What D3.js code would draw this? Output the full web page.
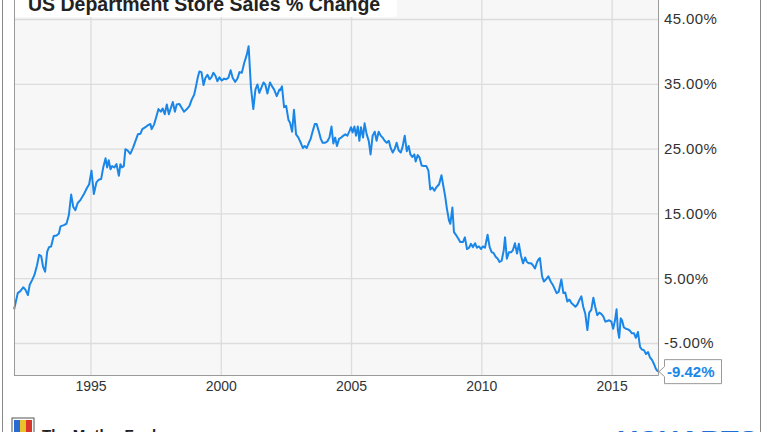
<!DOCTYPE html>
<html><head><meta charset="utf-8">
<script src="https://cdn.jsdelivr.net/npm/d3@7"></script>
<style>
html,body{margin:0;padding:0;background:#fff;overflow:hidden;}
svg{display:block;font-family:"Liberation Sans",Arial,sans-serif;}
</style></head><body>
<svg id="c" width="764" height="432"></svg>
<script>
const chartTitle = "US Department Store Sales % Change";
const xTicks = [1995, 2000, 2005, 2010, 2015];
const yTicks = [45, 35, 25, 15, 5, -5];
const lastLabel = "-9.42%";

const dates = [
1992.07,1992.21,1992.31,1992.42,1992.51,1992.60,1992.67,1992.76,1992.85,1992.95,
1993.03,1993.11,1993.18,1993.26,1993.34,1993.41,1993.49,1993.59,1993.70,1993.79,
1993.85,1993.98,1994.08,1994.17,1994.26,1994.34,1994.42,1994.51,1994.62,1994.74,
1994.85,1994.95,1995.04,1995.13,1995.23,1995.32,1995.41,1995.49,1995.58,1995.64,
1995.70,1995.77,1995.83,1995.92,1996.00,1996.09,1996.15,1996.21,1996.28,1996.34,
1996.43,1996.53,1996.64,1996.73,1996.82,1996.92,1996.99,1997.11,1997.20,1997.30,
1997.35,1997.44,1997.52,1997.61,1997.70,1997.77,1997.85,1997.93,1998.01,1998.08,
1998.16,1998.24,1998.31,1998.41,1998.50,1998.59,1998.70,1998.80,1998.89,1998.98,
1999.05,1999.12,1999.18,1999.26,1999.34,1999.41,1999.49,1999.57,1999.64,1999.72,
1999.80,1999.87,1999.95,2000.04,2000.13,2000.20,2000.29,2000.38,2000.46,2000.55,
2000.64,2000.72,2000.81,2000.90,2001.00,2001.07,2001.16,2001.25,2001.33,2001.41,
2001.48,2001.56,2001.64,2001.71,2001.79,2001.89,2001.97,2002.05,2002.15,2002.25,
2002.28,2002.35,2002.43,2002.51,2002.60,2002.66,2002.74,2002.81,2002.89,2002.98,
2003.07,2003.15,2003.22,2003.30,2003.38,2003.45,2003.53,2003.61,2003.68,2003.76,
2003.84,2003.91,2004.00,2004.09,2004.17,2004.25,2004.32,2004.39,2004.46,2004.54,
2004.62,2004.71,2004.78,2004.86,2004.94,2005.00,2005.06,2005.13,2005.19,2005.26,
2005.32,2005.38,2005.46,2005.52,2005.60,2005.68,2005.75,2005.83,2005.91,2005.98,
2006.06,2006.14,2006.21,2006.29,2006.37,2006.45,2006.52,2006.60,2006.68,2006.75,
2006.83,2006.91,2006.98,2007.06,2007.14,2007.21,
2007.28,2007.35,2007.43,2007.48,2007.56,2007.63,2007.71,2007.79,2007.89,2007.97,
2008.04,2008.12,2008.20,2008.27,2008.38,2008.47,2008.53,2008.61,2008.68,2008.76,
2008.81,2008.89,2008.95,2009.04,2009.12,2009.19,2009.30,2009.37,2009.45,2009.53,
2009.60,2009.68,2009.76,2009.83,2009.91,2009.99,2010.06,2010.14,2010.24,2010.32,
2010.40,2010.47,2010.55,2010.63,2010.70,2010.78,2010.86,2010.91,2010.98,2011.06,
2011.14,2011.21,2011.29,2011.37,2011.44,2011.52,2011.60,2011.68,2011.75,2011.83,
2011.91,2011.98,2012.06,2012.14,2012.21,
2012.25,2012.33,2012.40,2012.48,2012.57,2012.66,2012.74,2012.81,2012.89,2012.97,
2013.07,2013.15,2013.22,2013.30,2013.38,2013.45,2013.53,2013.61,2013.68,2013.76,
2013.84,2013.91,2013.99,2014.07,2014.14,2014.22,2014.30,2014.37,2014.45,2014.53,
2014.60,2014.68,2014.76,2014.83,2014.91,2014.99,2015.06,2015.13,2015.19,2015.24,
2015.29,2015.35,2015.40,2015.47,2015.55,2015.63,2015.70,2015.78,2015.86,2015.93,
2016.01,2016.09,2016.16,2016.24,2016.32,2016.40,2016.47,2016.55,2016.62,2016.70,
2016.78
];

const pctChange = [
0.2,2.7,3.0,3.6,3.2,2.4,4.0,4.7,5.5,7.0,
8.6,8.4,6.8,6.0,9.1,9.8,9.9,11.5,11.6,11.9,
13.0,13.2,13.4,14.7,17.9,16.0,15.5,16.6,17.1,17.9,
18.8,19.5,21.6,18.0,19.8,20.2,20.3,22.1,23.5,22.1,
23.2,21.8,22.3,22.1,22.6,20.8,22.6,22.1,22.3,24.9,
24.7,24.2,25.2,26.2,27.2,27.3,28.0,28.3,28.6,28.8,
28.0,28.7,29.8,31.1,30.7,31.2,30.3,31.8,30.3,31.2,
32.2,30.7,31.8,31.9,31.3,30.7,31.1,31.6,32.6,33.3,
34.6,36.0,36.9,36.8,34.8,35.9,36.4,35.7,36.0,36.7,
36.2,35.4,36.0,35.5,35.8,35.7,35.9,37.1,35.9,35.3,
35.8,36.8,36.7,38.2,39.5,40.8,34.4,31.1,34.1,34.9,
33.6,34.4,35.2,34.9,33.5,35.2,34.6,34.1,33.1,34.1,
34.0,34.6,31.4,31.6,29.4,29.0,27.6,31.0,27.2,26.7,
25.9,25.1,25.4,25.1,25.9,26.5,27.7,28.8,28.8,27.7,
26.5,25.9,25.9,26.1,26.7,28.4,25.8,26.7,25.4,26.5,
26.7,27.0,27.2,27.0,27.7,28.3,27.5,28.4,27.0,28.4,
26.2,28.3,26.7,28.9,27.2,26.2,24.1,27.0,27.6,26.2,
27.6,27.0,26.7,26.2,25.9,26.2,25.1,24.4,25.0,25.9,
24.7,24.4,25.3,27.0,24.6,25.4,
24.1,23.7,24.1,23.0,24.0,23.6,22.4,22.3,22.3,21.6,
18.7,19.0,18.5,19.0,19.5,20.9,19.5,17.7,15.7,13.9,
13.4,15.9,12.1,11.6,11.1,10.6,10.6,11.3,9.5,9.7,
10.3,9.8,10.4,9.7,9.9,9.5,9.9,9.7,11.7,9.8,
9.0,8.9,8.3,8.0,7.5,7.7,9.3,11.3,8.0,9.0,
9.0,9.3,10.4,8.8,10.3,8.5,7.3,8.2,7.5,7.3,
7.3,7.0,6.5,7.5,8.0,
8.1,5.3,4.5,4.8,5.3,4.5,4.0,3.4,2.7,2.9,
4.8,2.7,2.8,1.4,1.7,1.2,0.9,0.6,0.9,1.6,
2.2,0.6,-0.5,-3.0,-0.3,0.1,2.0,0.6,-0.7,-0.3,
-0.5,-0.9,-1.7,-1.6,-1.5,-1.7,-2.8,-1.5,0.2,-3.0,
-4.2,-1.2,-1.5,-2.6,-2.8,-2.9,-3.1,-3.5,-3.5,-4.2,
-3.3,-5.6,-6.0,-6.1,-6.7,-6.4,-7.2,-7.6,-8.2,-9.0,
-9.42
];

const svg = d3.select("#c");
const L = 14, R = 658, B = 375;
const x = d3.scaleLinear().domain([1992.066, 2016.78]).range([L, R]);
const y = d3.scaleLinear().domain([-10, 45]).range([375.4, 19]);
const data = dates.map((d, i) => ({ t: d, v: pctChange[i] }));
const blue = "#1a87e8";

svg.append("rect").attr("width", 764).attr("height", 432).attr("fill", "#fff");
// outer frame
svg.append("line").attr("x1", 2.5).attr("x2", 2.5).attr("y1", 0).attr("y2", 432).attr("stroke", "#888");
svg.append("line").attr("x1", 760.5).attr("x2", 760.5).attr("y1", 0).attr("y2", 432).attr("stroke", "#888");

// plot background
svg.append("rect").attr("x", L).attr("y", -5).attr("width", R - L).attr("height", B + 5).attr("fill", "#f7f7f7");

// gridlines via axes
const gx = svg.append("g").attr("transform", `translate(0,${B})`)
  .call(d3.axisBottom(x).tickValues(xTicks).tickSize(-(B + 5)).tickFormat(""));
gx.select(".domain").remove();
gx.selectAll("line").attr("stroke", "#dcdcdc").attr("stroke-width", 1.3);

const gy = svg.append("g").attr("transform", `translate(${L},0)`)
  .call(d3.axisRight(y).tickValues(yTicks).tickSize(R - L).tickFormat(""));
gy.select(".domain").remove();
gy.selectAll("line").attr("stroke", "#dcdcdc").attr("stroke-width", 1.3);

// title box
svg.append("rect").attr("x", L).attr("y", -10).attr("width", 383).attr("height", 27).attr("rx", 4).attr("fill", "#fff");
svg.append("text").attr("x", 28).attr("y", 11).attr("font-size", 19.5).attr("font-weight", "bold")
  .attr("fill", "#222").text(chartTitle);

// line
svg.append("path").datum(data)
  .attr("d", d3.line().x(d => x(d.t)).y(d => y(d.v)))
  .attr("fill", "none").attr("stroke", blue).attr("stroke-width", 2).attr("stroke-linejoin", "round");

// plot border
const border = svg.append("g").attr("stroke", "#9a9a9a").attr("fill", "none");
border.append("line").attr("x1", L + 0.5).attr("x2", L + 0.5).attr("y1", -5).attr("y2", B + 0.5);
border.append("line").attr("x1", R + 0.5).attr("x2", R + 0.5).attr("y1", -5).attr("y2", B + 0.5);
border.append("line").attr("x1", L).attr("x2", R + 0.5).attr("y1", B + 0.5).attr("y2", B + 0.5);

// y labels
const yl = svg.append("g").attr("transform", `translate(${R},0)`)
  .call(d3.axisRight(y).tickValues(yTicks).tickSize(0).tickPadding(6).tickFormat(d => d.toFixed(2) + "%"));
yl.select(".domain").remove();
yl.selectAll("text").attr("font-size", 15).attr("fill", "#333").attr("font-family", "Liberation Sans, Arial, sans-serif")
  .attr("letter-spacing", 0.4);

// x labels
const xl = svg.append("g").attr("transform", `translate(0,${B})`)
  .call(d3.axisBottom(x).tickValues(xTicks).tickSize(0).tickPadding(6).tickFormat(d3.format("d")));
xl.select(".domain").remove();
xl.selectAll("text").attr("font-size", 14).attr("fill", "#333").attr("font-family", "Liberation Sans, Arial, sans-serif");

// last value callout
const last = data[data.length - 1];
const ly = y(last.v);
const bx = 664, bw = 57, bh = 24, by = ly - 12.5;
svg.append("path")
  .attr("d", `M${bx + 0.5},${by + 0.5} H${bx + bw + 0.5} V${by + bh + 0.5} H${bx + 0.5} V${ly + 5} L${x(last.t) + 1},${ly} L${bx + 0.5},${ly - 5} Z`)
  .attr("fill", "#fff").attr("stroke", "#999");
svg.append("text").attr("x", bx + 3).attr("y", ly + 5.5).attr("font-size", 15).attr("font-weight", "bold")
  .attr("fill", blue).text(lastLabel);

// footer branding (cut off at bottom)
const logo = svg.append("g").attr("transform", "translate(12,418)");
logo.append("rect").attr("width", 22).attr("height", 16).attr("fill", "#fff").attr("stroke", "#555");
logo.append("rect").attr("x", 2).attr("y", 2).attr("width", 6).attr("height", 14).attr("fill", "#2a6bd1");
logo.append("rect").attr("x", 8).attr("y", 2).attr("width", 6).attr("height", 14).attr("fill", "#e8c12b");
logo.append("rect").attr("x", 14).attr("y", 2).attr("width", 6).attr("height", 14).attr("fill", "#d9352b");
svg.append("text").attr("x", 42).attr("y", 440).attr("font-size", 15).attr("font-weight", "bold").attr("fill", "#222").text("The Motley Fool");
svg.append("text").attr("x", 618).attr("y", 451).attr("font-size", 29).attr("font-weight", "bold").attr("fill", "#1f6fd6").text("YCHARTS");
</script>
</body></html>
